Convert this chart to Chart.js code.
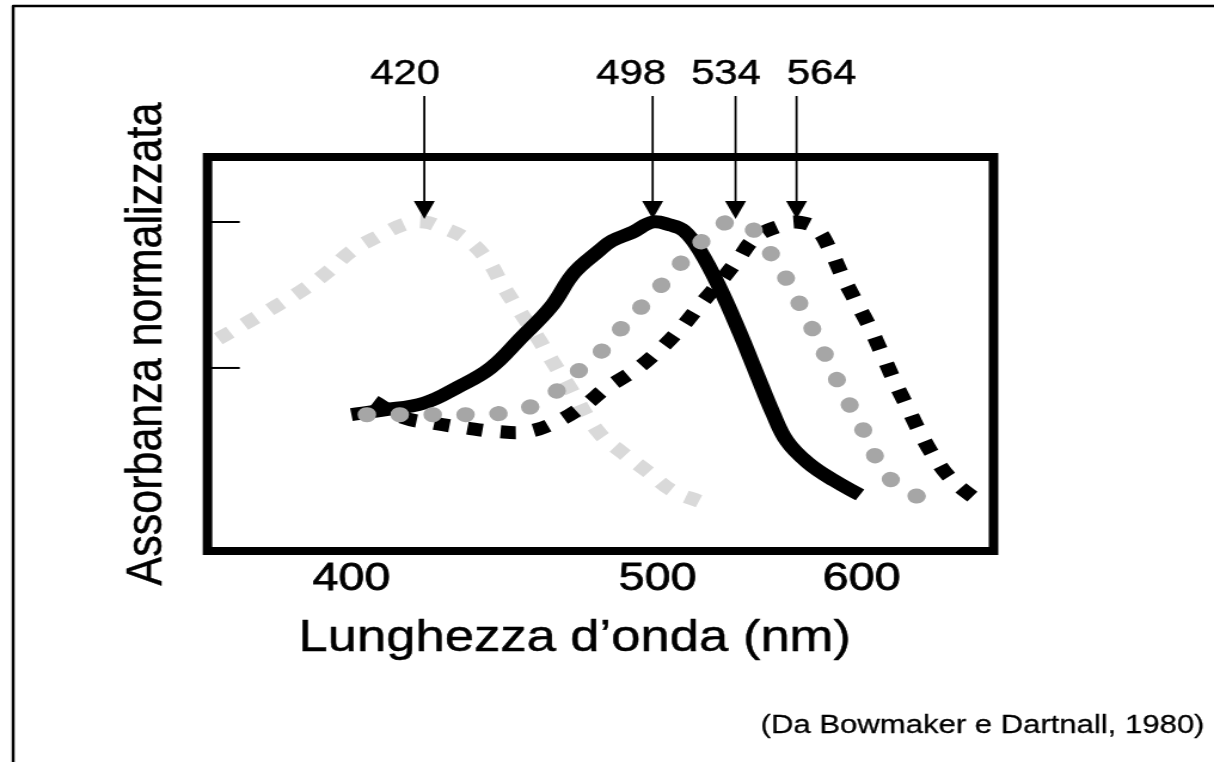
<!DOCTYPE html>
<html lang="it">
<head>
<meta charset="utf-8">
<title>Assorbanza dei pigmenti visivi</title>
<script src="https://cdn.jsdelivr.net/npm/chart.js@4.4.1/dist/chart.umd.min.js"></script>
<style>
  html, body { margin: 0; padding: 0; background: #fff; overflow: hidden; }
  /* the slide is laid out at 4:3 and shown widened to the window */
  #wrap { width: 1016px; height: 762px; transform: scaleX(1.19488); transform-origin: 0 0; }
  canvas { display: block; }
</style>
</head>
<body>
<div id="wrap"><canvas id="spettri" width="1016" height="762"></canvas></div>
<script>
// wavelengths (nm) and normalised absorbance, one pair of arrays per pigment
const lambdaS = [368, 375, 381, 388, 394, 400, 407, 415, 420, 424, 432, 439, 444, 449, 455, 460, 466, 477, 486, 496, 506, 518];
const absS    = [0.60, 0.66, 0.71, 0.77, 0.83, 0.90, 0.95, 0.995, 1.00, 0.986, 0.945, 0.87, 0.78, 0.70, 0.61, 0.53, 0.44, 0.28, 0.21, 0.145, 0.08, 0.042];

const lambdaR = [400, 408, 420, 430, 440, 450, 460, 468, 477, 482, 490, 498, 505, 511, 518, 527, 536, 544, 552, 559, 570, 584, 599];
const absR    = [0.34, 0.355, 0.38, 0.435, 0.50, 0.605, 0.71, 0.825, 0.90, 0.935, 0.965, 1.00, 0.99, 0.97, 0.90, 0.77, 0.62, 0.48, 0.345, 0.25, 0.175, 0.115, 0.065];

const lambdaM = [404, 413, 422, 432, 441, 452, 461, 469, 478, 485, 493, 501, 509, 518, 527, 534, 540, 549, 557, 564, 571, 578, 585, 592, 600, 607, 616, 632, 652];
const absM    = [0.34, 0.34, 0.34, 0.34, 0.342, 0.363, 0.414, 0.484, 0.556, 0.63, 0.705, 0.778, 0.853, 0.928, 0.99, 1.00, 0.99, 0.911, 0.826, 0.74, 0.651, 0.562, 0.47, 0.385, 0.299, 0.209, 0.127, 0.065, 0.055];

const lambdaL = [406, 414, 423, 432, 442, 452, 462, 472, 480, 491, 500, 509, 518, 527, 535, 544, 557, 564, 574, 582, 589, 597, 605, 612, 620, 628, 636, 645, 657, 673, 679];
const absL    = [0.385, 0.33, 0.31, 0.295, 0.282, 0.282, 0.316, 0.373, 0.432, 0.493, 0.556, 0.63, 0.716, 0.796, 0.87, 0.95, 0.99, 1.00, 0.979, 0.904, 0.813, 0.723, 0.637, 0.551, 0.453, 0.367, 0.282, 0.202, 0.123, 0.059, 0.048];

const picchi   = [420, 498, 534, 564];
const tickNm   = [400, 500, 600];
const tickAbs  = [0.5, 1.0];

const titoloY  = 'Assorbanza normalizzata';
const titoloX  = 'Lunghezza d\u2019onda (nm)';
const fonte    = '(Da Bowmaker e Dartnall, 1980)';

const FONT = '"Liberation Sans", Arial, Helvetica, sans-serif';

// the axis runs in wavenumber, so wavelengths are spaced as 1/lambda
const toWn = nm => 1e7 / nm;
const serie = (lam, abs) => lam.map((l, i) => ({ x: toWn(l), y: abs[i] }));

// label nudges relative to their arrows (canvas px)
const labelShift = [-16, -18, -8, 21];

function scritta(ctx, text, x, y, size, stroke) {
  ctx.font = `${size}px ${FONT}`;
  ctx.lineWidth = stroke;
  ctx.strokeText(text, x, y);
  ctx.fillText(text, x, y);
}

const cornice = {
  id: 'cornice',
  afterDatasetsDraw(chart) {
    const { ctx, chartArea: a, scales: { x, y } } = chart;
    ctx.save();
    ctx.strokeStyle = '#000';
    ctx.fillStyle = '#000';
    ctx.lineJoin = 'round';

    // slide border, only top and left edges fall on the page
    ctx.lineWidth = 2.5;
    ctx.strokeRect(11, 6, 1200, 900);

    ctx.lineWidth = 8;
    ctx.lineJoin = 'miter';
    ctx.strokeRect(a.left, a.top, a.right - a.left, a.bottom - a.top);
    ctx.lineJoin = 'round';

    ctx.lineWidth = 2;
    tickAbs.forEach(v => {
      const py = y.getPixelForValue(v);
      ctx.beginPath();
      ctx.moveTo(a.left, py);
      ctx.lineTo(a.left + 27, py);
      ctx.stroke();
    });

    // peak arrows
    const tipY = y.getPixelForValue(1.0) - 3;
    ctx.textAlign = 'center';
    ctx.textBaseline = 'alphabetic';
    picchi.forEach((nm, i) => {
      const px = x.getPixelForValue(toWn(nm));
      ctx.lineWidth = 1.8;
      ctx.beginPath();
      ctx.moveTo(px, 96);
      ctx.lineTo(px, tipY - 16);
      ctx.stroke();
      ctx.beginPath();
      ctx.moveTo(px - 8.8, tipY - 18);
      ctx.lineTo(px + 8.8, tipY - 18);
      ctx.lineTo(px, tipY);
      ctx.closePath();
      ctx.fill();
      scritta(ctx, String(nm), px + labelShift[i], 84, 35, 0.5);
    });

    scritta(ctx, titoloX, 481, 651, 44, 0.5);

    ctx.save();
    ctx.translate(135, 344);
    ctx.rotate(-Math.PI / 2);
    scritta(ctx, titoloY, 0, 0, 43, 0.5);
    ctx.restore();

    ctx.textAlign = 'right';
    scritta(ctx, fonte, 1008, 733, 26, 0.3);
    ctx.restore();
  }
};

new Chart(document.getElementById('spettri'), {
  type: 'line',
  data: {
    datasets: [
      {
        label: '534',
        data: serie(lambdaM, absM),
        borderColor: '#a6a6a6',
        borderWidth: 15,
        borderDash: [0.5, 27],
        borderCapStyle: 'round',
        tension: 0.4,
        pointRadius: 0
      },
      {
        label: '564',
        data: serie(lambdaL, absL),
        borderColor: '#000',
        borderWidth: 13,
        borderDash: [13, 15],
        borderCapStyle: 'butt',
        tension: 0.4,
        pointRadius: 0
      },
      {
        label: '498',
        data: serie(lambdaR, absR),
        borderColor: '#000',
        borderWidth: 13,
        borderCapStyle: 'butt',
        borderJoinStyle: 'round',
        tension: 0.4,
        pointRadius: 0
      },
      {
        label: '420',
        data: serie(lambdaS, absS),
        borderColor: '#d9d9d9',
        borderWidth: 13,
        borderDash: [12, 14],
        borderCapStyle: 'butt',
        tension: 0.4,
        pointRadius: 0
      }
    ]
  },
  options: {
    responsive: false,
    devicePixelRatio: 1,
    animation: false,
    events: [],
    layout: { padding: { left: 173.66, right: 184.54, top: 157, bottom: 151 } },
    plugins: { legend: { display: false }, tooltip: { enabled: false } },
    scales: {
      x: {
        type: 'linear',
        reverse: true,
        min: 14514,
        max: 27350,
        grid: { display: false, drawTicks: false },
        border: { display: false },
        afterBuildTicks: ax => { ax.ticks = tickNm.map(nm => ({ value: toWn(nm) })); },
        afterFit: ax => { ax.height = 60; },
        ticks: {
          autoSkip: false,
          maxRotation: 0,
          padding: 5,
          color: '#000',
          textStrokeColor: '#000',
          textStrokeWidth: 0.8,
          font: { family: FONT, size: 39 },
          callback: v => Math.round(1e7 / v)
        }
      },
      y: {
        display: false,
        min: -0.127,
        max: 1.2226
      }
    }
  },
  plugins: [cornice]
});
</script>
</body>
</html>
